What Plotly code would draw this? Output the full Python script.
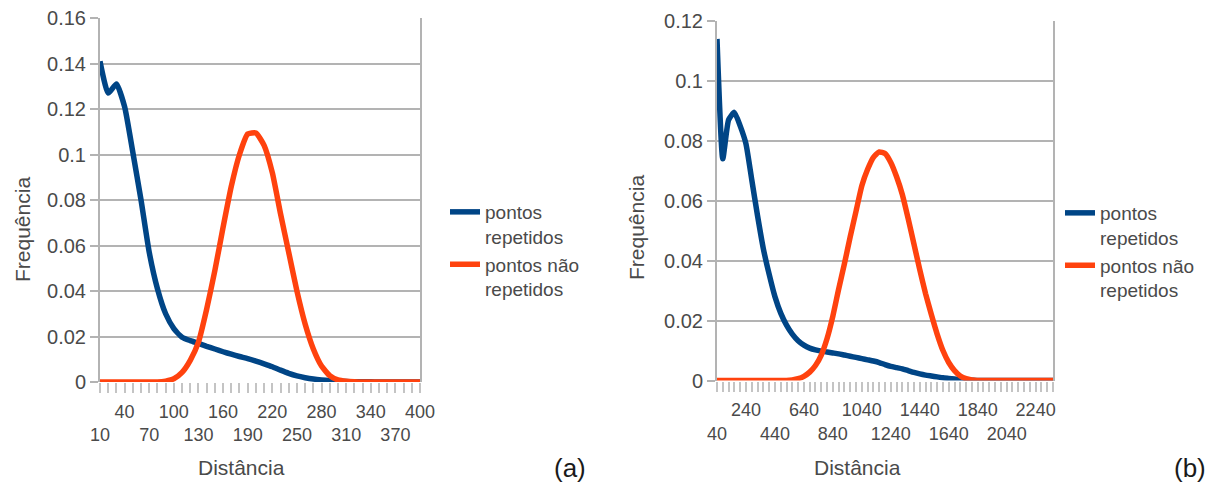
import plotly.graph_objects as go

W, H = 1218, 492

# ---------------- data (a) ----------------
dist_a = [10, 20, 30, 40, 50, 60, 70, 80, 90, 100,
          110, 120, 130, 140, 150, 160, 170, 180, 190, 200,
          210, 220, 230, 240, 250, 260, 270, 280, 290, 300,
          310, 320, 330, 340, 350, 360, 370, 380, 390, 400]
rep_a = [0.141, 0.127, 0.131, 0.121, 0.101, 0.080, 0.057, 0.041, 0.030, 0.0235,
         0.0197, 0.0182, 0.0170, 0.0157, 0.0145, 0.0133, 0.0122, 0.0112, 0.0103, 0.0092,
         0.0080, 0.0067, 0.0052, 0.0038, 0.0027, 0.0019, 0.0013, 0.0009, 0.0006, 0.0004,
         0.0002, 0.0001, 0.0001, 0.0001, 0.0, 0.0, 0.0, 0.0, 0.0, 0.0]
nrep_a = [0.0, 0.0, 0.0, 0.0, 0.0, 0.0, 0.0, 0.0, 0.0004, 0.0014,
          0.0042, 0.0095, 0.0175, 0.032, 0.049, 0.068, 0.086, 0.100, 0.109, 0.1095,
          0.104, 0.092, 0.074, 0.057, 0.040, 0.0255, 0.0145, 0.007, 0.0028, 0.0009,
          0.0003, 0.0001, 0.0, 0.0, 0.0, 0.0, 0.0, 0.0, 0.0, 0.0]
xlabels_a = [10, 40, 70, 100, 130, 160, 190, 220, 250, 280, 310, 340, 370, 400]
yvals_a = [0, 0.02, 0.04, 0.06, 0.08, 0.10, 0.12, 0.14, 0.16]
ylabels_a = ["0", "0.02", "0.04", "0.06", "0.08", "0.1", "0.12", "0.14", "0.16"]

# ---------------- data (b) ----------------
dist_b = [40, 80, 120, 160, 200, 240, 280, 320, 360, 400,
          440, 480, 520, 560, 600, 640, 680, 720, 760, 800,
          840, 880, 920, 960, 1000, 1040, 1080, 1120, 1160, 1200,
          1240, 1280, 1320, 1360, 1400, 1440, 1480, 1520, 1560, 1600,
          1640, 1680, 1720, 1760, 1800, 1840, 1880, 1920, 1960, 2000,
          2040, 2080, 2120, 2160, 2200, 2240, 2280, 2320, 2360]
rep_b = [0.114, 0.074, 0.087, 0.0895, 0.085, 0.079, 0.067, 0.055, 0.044, 0.0355,
         0.028, 0.0225, 0.0185, 0.0155, 0.0133, 0.0118, 0.0108, 0.0102, 0.0098, 0.0095,
         0.0092, 0.0089, 0.0085, 0.0081, 0.0077, 0.0073, 0.0069, 0.0065, 0.0060, 0.0053,
         0.0047, 0.0043, 0.0039, 0.0033, 0.0027, 0.0022, 0.0018, 0.0015, 0.0012, 0.0009,
         0.0007, 0.0005, 0.0003, 0.0002, 0.0001, 0.0, 0.0, 0.0, 0.0, 0.0,
         0.0, 0.0, 0.0, 0.0, 0.0, 0.0, 0.0, 0.0, 0.0]
nrep_b = [0.0, 0.0, 0.0, 0.0, 0.0, 0.0, 0.0, 0.0, 0.0, 0.0,
          0.0, 0.0, 0.0, 0.0002, 0.0006, 0.0014, 0.0028, 0.005, 0.0085, 0.014,
          0.0215, 0.0305, 0.039, 0.048, 0.0565, 0.065, 0.0705, 0.0745, 0.0763, 0.0758,
          0.0728, 0.068, 0.062, 0.054, 0.0455, 0.037, 0.029, 0.022, 0.0155, 0.0100,
          0.0060, 0.0033, 0.0015, 0.0006, 0.0002, 0.0, 0.0, 0.0, 0.0, 0.0,
          0.0, 0.0, 0.0, 0.0, 0.0, 0.0, 0.0, 0.0, 0.0]
xlabels_b = [40, 240, 440, 640, 840, 1040, 1240, 1440, 1640, 1840, 2040, 2240]
yvals_b = [0, 0.02, 0.04, 0.06, 0.08, 0.10, 0.12]
ylabels_b = ["0", "0.02", "0.04", "0.06", "0.08", "0.1", "0.12"]

series_names = ["pontos<br>repetidos", "pontos não<br>repetidos"]
axis_title_x = "Distância"
axis_title_y = "Frequência"
panel_labels = ["(a)", "(b)"]

BLUE = "#004586"
ORANGE = "#ff420e"
GRID = "#b3b3b3"
TICKC = "#c4c4c4"
TXT = "#4a4a4a"
FONT = "Liberation Sans"


def stagger(labels):
    return [("<br>" + str(v)) if i % 2 == 0 else str(v) for i, v in enumerate(labels)]


def px_x(p):
    return p / W


def px_y(p):
    return 1 - p / H


fig = go.Figure()
specs = [
    (dist_a, rep_a, series_names[0], BLUE, "x", "y", "legend"),
    (dist_a, nrep_a, series_names[1], ORANGE, "x", "y", "legend"),
    (dist_b, rep_b, series_names[0], BLUE, "x2", "y2", "legend2"),
    (dist_b, nrep_b, series_names[1], ORANGE, "x2", "y2", "legend2"),
]
for xs, ys, nm, col, xa, ya, lg in specs:
    fig.add_trace(go.Scatter(x=xs, y=ys, name=nm, mode="lines",
                             line=dict(color=col, width=5.5, shape="spline", smoothing=0.5),
                             xaxis=xa, yaxis=ya, legend=lg, cliponaxis=False))


def xaxis(dom, rng, labels, step, anchor):
    return dict(domain=dom, range=rng, anchor=anchor, showgrid=False, zeroline=False,
                showline=False, tickmode="array", tickvals=labels, ticktext=stagger(labels),
                tickangle=0, ticklabelstandoff=3,
                ticks="outside", ticklen=10, tickwidth=2, tickcolor=TICKC,
                minor=dict(ticks="outside", ticklen=10, tickwidth=2, tickcolor=TICKC,
                           tick0=rng[0], dtick=step, showgrid=False),
                tickfont=dict(family=FONT, size=18, color=TXT), automargin=False,
                fixedrange=True)


def yaxis(dom, rng, vals, labels, anchor):
    return dict(domain=dom, range=rng, anchor=anchor, showgrid=True, gridcolor=GRID,
                gridwidth=2, zeroline=False, showline=True, linecolor=GRID, linewidth=2,
                mirror=True, tickmode="array", tickvals=vals, ticktext=labels,
                ticks="outside", ticklen=8, tickwidth=2, tickcolor=GRID,
                tickfont=dict(family=FONT, size=20, color=TXT), automargin=False,
                fixedrange=True)


legend_common = dict(font=dict(family=FONT, size=19, color=TXT), bgcolor="rgba(0,0,0,0)",
                     xanchor="left", yanchor="top", valign="top", tracegroupgap=0,
                     borderwidth=0)

fig.update_layout(
    width=W, height=H,
    margin=dict(l=0, r=0, t=0, b=0),
    paper_bgcolor="white", plot_bgcolor="white",
    xaxis=xaxis([px_x(100), px_x(420)], [10, 400], xlabels_a, 10, "y"),
    yaxis=yaxis([px_y(382), px_y(18)], [0, 0.16], yvals_a, ylabels_a, "x"),
    xaxis2=xaxis([px_x(717), px_x(1053)], [40, 2360], xlabels_b, 40, "y2"),
    yaxis2=yaxis([px_y(380.5), px_y(21)], [0, 0.12], yvals_b, ylabels_b, "x2"),
    legend=dict(x=px_x(445), y=px_y(193), **legend_common),
    legend2=dict(x=px_x(1060), y=px_y(194), **legend_common),
    showlegend=True,
)

annos = [
    (22, 230, axis_title_y, -90, 21, TXT),
    (637, 228, axis_title_y, -90, 21, TXT),
    (241, 467, axis_title_x, 0, 21, TXT),
    (857, 467, axis_title_x, 0, 21, TXT),
    (570, 468, panel_labels[0], 0, 26, "#1a1a1a"),
    (1190, 468, panel_labels[1], 0, 26, "#1a1a1a"),
]
for x, y, t, ang, sz, col in annos:
    fig.add_annotation(x=px_x(x), y=px_y(y), xref="paper", yref="paper", text=t,
                       textangle=ang, showarrow=False, xanchor="center", yanchor="middle",
                       font=dict(family=FONT, size=sz, color=col))

fig.write_html("out.html", config={"displayModeBar": False})
